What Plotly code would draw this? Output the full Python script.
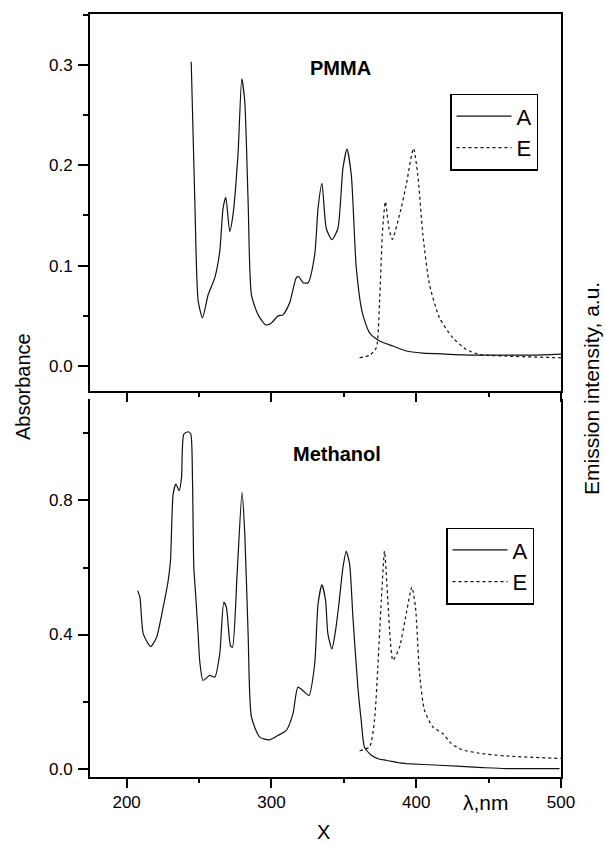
import plotly.graph_objects as go

# ---------------- data ----------------
# PMMA absorbance (A)
pmma_abs_x = [244.6, 247.1, 249.4, 252.4, 256.3, 260.9, 264.3, 266.6, 268.5, 271.2, 273.5, 277.0,
              279.5, 281.6, 283.9, 286.2, 290.8, 296.1, 300.0, 304.6, 308.0, 312.6, 317.2, 319.0,
              321.8, 325.3, 329.9, 332.2, 334.9, 337.9, 341.8, 345.9, 349.4, 352.2, 355.2, 358.6,
              362.8, 367.8, 374.7, 383.9, 393.1, 404.6, 420.0, 440.0, 460.0, 480.0, 500.0]
pmma_abs_y = [0.303, 0.164, 0.065, 0.048, 0.071, 0.088, 0.114, 0.157, 0.168, 0.134, 0.151, 0.213,
              0.286, 0.263, 0.164, 0.071, 0.051, 0.041, 0.043, 0.050, 0.051, 0.063, 0.088, 0.089,
              0.083, 0.083, 0.111, 0.157, 0.182, 0.137, 0.126, 0.137, 0.197, 0.216, 0.190, 0.098,
              0.053, 0.033, 0.025, 0.020, 0.015, 0.013, 0.012, 0.011, 0.011, 0.011, 0.012]

# PMMA emission (E), arbitrary units
pmma_em_x = [360.9, 367.8, 372.4, 374.7, 376.6, 378.7, 381.2, 383.5, 388.5, 393.1, 398.1, 401.1,
             404.6, 409.2, 416.1, 425.3, 434.5, 443.7, 462.0, 500.0]
pmma_em_y = [0.100, 0.111, 0.143, 0.343, 0.630, 0.771, 0.655, 0.609, 0.715, 0.843, 1.000, 0.886,
             0.629, 0.414, 0.271, 0.186, 0.136, 0.114, 0.107, 0.100]

# Methanol absorbance (A)
meoh_abs_x = [207.6, 209.2, 211.5, 216.6, 220.7, 225.2, 228.7, 230.3, 232.1, 234.0, 236.3, 237.9,
              239.5, 242.5, 244.3, 245.5, 246.4, 247.5, 249.4, 250.5, 252.8, 257.4, 260.9, 264.3,
              267.1, 268.9, 271.7, 273.1, 276.3, 279.7, 281.6, 283.9, 286.2, 291.9, 298.8, 304.6,
              310.3, 314.9, 318.3, 323.0, 325.9, 329.9, 332.2, 334.9, 337.4, 339.0, 341.8, 344.3,
              346.6, 349.4, 351.7, 354.0, 356.3, 359.7, 362.0, 364.3, 369.0, 374.7, 379.3, 388.5,
              393.1, 416.1, 446.0, 462.0, 499.0]
meoh_abs_y = [0.531, 0.511, 0.402, 0.364, 0.392, 0.481, 0.561, 0.620, 0.819, 0.849, 0.829, 0.868,
              0.998, 1.005, 0.998, 0.859, 0.600, 0.530, 0.400, 0.320, 0.263, 0.278, 0.273, 0.342,
              0.496, 0.481, 0.367, 0.362, 0.581, 0.824, 0.700, 0.402, 0.154, 0.094, 0.086, 0.099,
              0.114, 0.164, 0.243, 0.228, 0.218, 0.313, 0.491, 0.548, 0.501, 0.402, 0.357, 0.412,
              0.491, 0.600, 0.648, 0.610, 0.451, 0.243, 0.144, 0.064, 0.040, 0.028, 0.025, 0.017,
              0.015, 0.010, 0.003, 0.000, 0.000]

# Methanol emission (E), arbitrary units
meoh_em_x = [360.9, 367.8, 371.2, 373.5, 375.9, 378.1, 380.4, 382.1, 383.9, 388.5, 393.1, 397.0,
             399.5, 402.3, 405.7, 411.5, 418.3, 424.1, 431.0, 443.7, 462.0, 500.0]
meoh_em_y = [0.115, 0.133, 0.251, 0.487, 0.782, 1.000, 0.782, 0.605, 0.516, 0.575, 0.723, 0.841,
             0.752, 0.458, 0.295, 0.221, 0.192, 0.148, 0.121, 0.104, 0.092, 0.081]

x_ticks = [200, 300, 400, 500]
pmma_ticks = [0.0, 0.1, 0.2, 0.3]
meoh_ticks = [0.0, 0.4, 0.8]

# ---------------- figure ----------------
FONT = "Liberation Sans, Arial, Helvetica, sans-serif"
W, H = 605, 845
L, R, T, B = 90, 44, 12, 68
ph = H - T - B
pw = W - L - R
top_dom = [(777 - 389.5) / ph, 1.0]
bot_dom = [0.0, (777 - 398) / ph]

fig = go.Figure()
solid = dict(color="#111111", width=1.2, shape="spline", smoothing=0.6)
dotted = dict(color="#111111", width=1.2, dash="dot", shape="spline", smoothing=0.6)

fig.add_trace(go.Scatter(x=pmma_abs_x, y=pmma_abs_y, mode="lines", name="A", line=solid,
                         xaxis="x", yaxis="y", legend="legend"))
fig.add_trace(go.Scatter(x=pmma_em_x, y=pmma_em_y, mode="lines", name="E", line=dotted,
                         xaxis="x", yaxis="y3", legend="legend"))
fig.add_trace(go.Scatter(x=meoh_abs_x, y=meoh_abs_y, mode="lines", name="A", line=solid,
                         xaxis="x2", yaxis="y2", legend="legend2"))
fig.add_trace(go.Scatter(x=meoh_em_x, y=meoh_em_y, mode="lines", name="E", line=dotted,
                         xaxis="x2", yaxis="y4", legend="legend2"))

xrange = [174.7, 500]
common_x = dict(range=xrange, tickmode="array", tickvals=x_ticks, ticks="outside", ticklen=9,
                tickwidth=1.5, tickcolor="black", showline=True, linewidth=2, linecolor="black",
                showgrid=False, zeroline=False,
                minor=dict(dtick=50, tick0=200, ticks="outside", ticklen=4, tickwidth=1.5,
                           tickcolor="black", showgrid=False),
                tickfont=dict(family=FONT, size=17, color="black"))
common_y = dict(ticks="outside", ticklen=10, tickwidth=1.5, tickcolor="black", showline=True,
                linewidth=2, linecolor="black", showgrid=False, zeroline=False,
                tickformat=".1f", ticklabelstandoff=2,
                tickfont=dict(family=FONT, size=17, color="black"))

legend_common = dict(xanchor="left", yanchor="top", bgcolor="white", bordercolor="black",
                     borderwidth=1.5, font=dict(family=FONT, size=22, color="black"),
                     tracegroupgap=0, itemwidth=55)

fig.update_layout(
    width=W, height=H,
    margin=dict(l=L, r=R, t=T, b=B),
    paper_bgcolor="white", plot_bgcolor="white",
    font=dict(family=FONT, color="black"),
    xaxis=dict(**common_x, domain=[0, 1], anchor="y", mirror=True, showticklabels=False),
    xaxis2=dict(**common_x, domain=[0, 1], anchor="y2", mirror=False, showticklabels=True),
    yaxis=dict(**common_y, domain=top_dom, anchor="x", range=[-0.0243, 0.3505],
               tickmode="array", tickvals=pmma_ticks, mirror=True,
               minor=dict(dtick=0.05, tick0=0, ticks="outside", ticklen=5, tickwidth=1.5,
                          tickcolor="black", showgrid=False)),
    yaxis2=dict(**common_y, domain=bot_dom, anchor="x2", range=[-0.025, 1.1027],
                tickmode="array", tickvals=meoh_ticks, mirror=True,
                minor=dict(dtick=0.2, tick0=0, ticks="outside", ticklen=5, tickwidth=1.5,
                           tickcolor="black", showgrid=False)),
    yaxis3=dict(overlaying="y", side="right", anchor="x", range=[-0.0407, 1.5774],
                showticklabels=False, ticks="", showgrid=False, zeroline=False, showline=False),
    yaxis4=dict(overlaying="y2", side="right", anchor="x2", range=[-0.0013, 1.6757],
                showticklabels=False, ticks="", showgrid=False, zeroline=False, showline=False),
    legend=dict(x=(450 - L) / pw, y=(777 - 92) / ph, **legend_common),
    legend2=dict(x=(446 - L) / pw, y=(777 - 527) / ph, **legend_common),
    showlegend=True,
)

annos = [
    dict(text="<b>PMMA</b>", x=340, y=66, size=20, angle=0),
    dict(text="<b>Methanol</b>", x=337, y=453, size=20, angle=0),
    dict(text="Absorbance", x=23, y=386, size=20, angle=-90),
    dict(text="Emission intensity, a.u.", x=591, y=388, size=21, angle=-90),
    dict(text="X", x=323, y=832, size=20, angle=0),
    dict(text="λ,nm", x=486, y=803, size=21, angle=0),
]
for a in annos:
    fig.add_annotation(text=a["text"], xref="paper", yref="paper",
                       x=(a["x"] - L) / pw, y=(777 - a["y"]) / ph,
                       xanchor="center", yanchor="middle", showarrow=False,
                       textangle=a["angle"],
                       font=dict(family=FONT, size=a["size"], color="black"))

fig.write_html("out.html")
